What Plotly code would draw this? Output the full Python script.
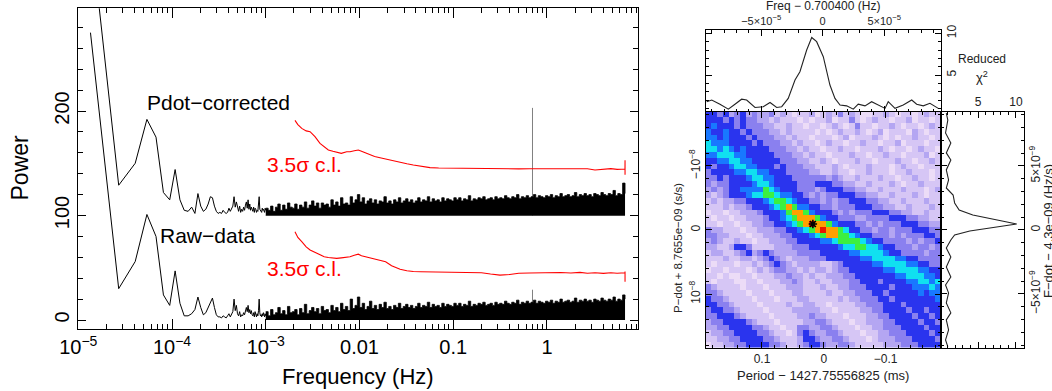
import numpy as np
import plotly.graph_objects as go

W, H = 1052, 391
def px(x): return x / W
def py(y): return 1 - y / H

FONT = "Liberation Sans"

# ---------------- left panel data ----------------
DF = 1.35e-5          # frequency resolution (Hz)
OFFSET = 100          # vertical offset of the Pdot-corrected spectrum

raw_low = [275, 30, 56, 101, 80, 24, 14, 47, 16, 4, 4, 6, 10, 22, 12, 5, 7, 12, 16, 21,
           12, 5, 3, 3, 2, 4, 3, 2, 4, 6, 3, 5, 8, 20, 9, 14, 6, 4, 8, 3,
           5, 4, 7, 5, 9, 12, 8, 14, 7, 10, 6, 9, 5, 4, 7, 3, 8, 5, 3, 6,
           4, 9, 20, 7, 4, 5, 3, 6, 4, 7, 5, 3, 6, 4]
pdot_low = [275, 29, 50, 92, 75, 22, 15, 44, 15, 5, 4, 8, 2, 21, 9, 4, 6, 11, 18, 17,
            9, 4, 2, 3, 2, 5, 3, 2, 3, 7, 4, 6, 9, 18, 8, 13, 7, 4, 9, 3,
            6, 4, 8, 5, 10, 13, 7, 15, 6, 11, 5, 8, 6, 4, 8, 3, 7, 6, 3, 5,
            4, 10, 18, 6, 5, 4, 3, 7, 5, 6, 4, 3, 7, 5]

env_freq = np.geomspace(1.0e-3, 6.8, 150)
raw_env = [8, 4, 10, 5, 7, 12, 6, 9, 5, 13, 7, 8, 10, 5, 11, 7, 15, 6, 9, 12,
           8, 11, 6, 13, 9, 10, 7, 14, 9, 12, 8, 16, 10, 13, 9, 20, 11, 14, 22,
           12, 16, 10, 13, 18, 11, 14, 10, 15, 12, 17, 11, 13, 10, 14, 12, 16, 11, 13, 15, 12,
           14, 11, 13, 16, 12, 14, 13, 17, 12, 15, 13, 14, 12, 16, 13, 15, 14, 13, 16,
           14, 16, 13, 15, 14, 18, 13, 15, 14, 16, 15, 17, 14, 15, 16, 14, 17, 15, 16, 15, 18,
           16, 15, 17, 16, 19, 15, 17, 16, 18, 16, 17, 19, 16, 18, 17, 16, 18,
           17, 19, 16, 18, 17, 20, 17, 18, 19, 17, 18, 21, 17, 19, 18, 20, 18, 19, 17, 20,
           19, 18, 21, 19, 18, 20, 19, 22, 18, 20, 19, 24, 20]
pdot_env = [7, 5, 9, 4, 8, 11, 5, 10, 6, 12, 8, 7, 11, 6, 10, 8, 13, 7, 10, 14,
            9, 12, 7, 12, 10, 11, 8, 15, 10, 13, 9, 17, 11, 12, 10, 18, 12, 15, 20,
            13, 17, 11, 14, 16, 12, 15, 11, 14, 13, 18, 12, 14, 11, 15, 13, 17, 12, 14, 16, 13,
            15, 12, 14, 17, 13, 15, 14, 18, 13, 16, 14, 15, 13, 17, 14, 16, 15, 14, 17,
            15, 17, 14, 16, 15, 19, 14, 16, 15, 17, 16, 18, 15, 16, 17, 15, 18, 16, 17, 16, 19,
            17, 16, 18, 17, 20, 16, 18, 17, 19, 17, 18, 20, 17, 19, 18, 17, 19,
            18, 20, 17, 19, 18, 21, 18, 19, 20, 18, 19, 22, 18, 20, 19, 21, 19, 20, 18, 21,
            20, 19, 22, 20, 19, 21, 20, 24, 19, 21, 20, 31, 21]

pulse_freq = 0.7004
raw_pulse = 29
pdot_pulse = 103

cl_freq = [2.05e-3, 2.2e-3, 2.42e-3, 2.7e-3, 2.97e-3, 3.35e-3, 3.79e-3, 4.2e-3, 4.65e-3, 5.2e-3,
           5.71e-3, 6.4e-3, 7.3e-3, 7.92e-3, 8.8e-3, 9.71e-3, 1.05e-2, 1.145e-2, 1.3e-2, 1.45e-2,
           1.656e-2, 1.9e-2, 2.2e-2, 2.71e-2, 3.2e-2, 3.75e-2, 4.5e-2, 5.65e-2, 0.07, 0.09,
           0.12, 0.151, 0.2, 0.25, 0.315, 0.4, 0.5, 0.65, 0.842, 1.1,
           1.4, 1.8, 2.25, 2.7, 3.25, 4.0, 4.8, 5.6, 6.3, 6.79, 6.8, 6.8]
cl_pdot = [91, 87, 83.4, 81, 80.2, 75.4, 69, 66, 62.7, 61.5,
           60.4, 59.5, 61, 61, 62, 62.7, 61.5, 60, 58, 56.5,
           55.3, 54, 52.5, 50.9, 49.5, 48.3, 47, 45.8, 45.5, 45.3,
           45.2, 45.1, 44.8, 44.6, 44.5, 44.4, 44.6, 44.8, 44.8, 44.6,
           45.2, 44.8, 45.1, 44.7, 43.5, 44.4, 44.9, 44.2, 44.6, 44.5, 53, 39]
cl_raw = [84.5, 79, 75, 70, 67, 64.5, 62, 60.6, 59.8, 59.3,
          59, 59.5, 60.2, 60.6, 62, 63, 61.5, 60.6, 59.5, 58,
          57, 55.8, 52, 48.5, 47.2, 46.4, 46.2, 46, 45.8, 45.6,
          45.4, 45.3, 45.2, 44, 43, 43.5, 44.8, 45, 45.3, 44.9,
          45.5, 45, 45.6, 44.8, 45.3, 44.6, 45.2, 44.7, 45.4, 45.3, 46.5, 36.7]

x_tickvals = [1e-5, 1e-4, 1e-3, 1e-2, 1e-1, 1]
x_ticktext = ["10<sup>\u22125</sup>", "10<sup>\u22124</sup>", "10<sup>\u22123</sup>", "0.01", "0.1", "1"]
y_tickvals = [0, 100, 200]

# ---------------- right panels data ----------------
freq_off = [v * 1e-5 for v in [-9.43, -9.02, -8.35, -7.67, -7.13, -6.59, -6.18, -5.50, -4.83, -4.28,
                                -3.74, -3.33, -2.80, -2.25, -1.85, -1.30, -0.89, -0.49, 0.05, 0.59,
                                1.00, 1.41, 1.95, 2.49, 2.89, 3.44, 3.98, 4.52, 5.07, 5.33,
                                5.88, 6.55, 7.24, 7.64, 8.18, 8.72, 9.40]]
chi2_freq = [1.8, 2.0, 1.5, 0.9, 1.5, 2.1, 2.0, 1.1, 1.2, 1.7,
             1.1, 1.2, 2.2, 4.4, 5.4, 8.0, 9.5, 9.0, 7.2, 3.8,
             2.2, 1.4, 1.3, 0.9, 1.5, 1.3, 1.8, 1.4, 1.0, 1.8,
             1.0, 1.4, 2.0, 1.5, 1.3, 1.6, 1.0]

fdot_off = [v * 1e-9 for v in [9.12, 8.59, 7.58, 6.80, 6.02, 5.47, 4.69, 3.91, 3.28, 2.73,
                                2.11, 1.56, 1.17, 0.47, -0.08, -0.39, -0.78, -1.41, -2.11, -2.89,
                                -3.67, -4.30, -4.92, -5.70, -6.48, -7.03, -7.81, -8.59, -9.12]]
chi2_fdot = [0.8, 1.0, 0.7, 1.4, 0.8, 1.4, 0.8, 1.1, 0.8, 1.7,
             1.9, 2.5, 4.3, 10.1, 3.9, 1.9, 1.4, 0.8, 1.4, 0.8,
             1.4, 0.7, 1.1, 0.8, 1.4, 0.8, 1.1, 0.7, 1.0]

best_period = 0.0177     # ms offset of best solution
best_pdot = -9.4e-10

# 41x41 grid of chi^2 levels (0 = lowest ... A = highest), rows from top (most negative P-dot)
grid_rows = [
    "55453453433423212231" "232423211223212212322",
    "55545454433232221" "212231224212322122312212",
    "56555454443322322" "122123212422122321221232",
    "65565545444332322" "221212322321231222132122",
    "66565554544433232" "212221231222321212232212",
    "76665555454443323" "221232212232212231222122",
    "77676565555444332" "322122322122232122123221",
    "66777665555544433" "232212223221223221222312",
    "55667766555554443" "322321222322122232212232",
    "54556776655545444" "332223212223222123221222",
    "45555667766555444" "433223221223222122322212",
    "44545556776655544" "444434322322232212232212",
    "43445555677655554" "445554433223222321223222",
    "34345566668765554" "443455544332232223222123",
    "32345556778876655" "434344555443322322232122",
    "23233445556788765" "544343445554433223222322",
    "22232334555678986" "655443444555443322322232",
    "12212233345556899" "865554343444555443322322",
    "21221223334556789" "998655444334444555443322",
    "22122122334455678" "9A9986555443434445554433",
    "43322212233344556" "789A99875544344344455544",
    "44332221223334455" "567899887655444343444554",
    "34322322122333445" "555667888876554444343445",
    "33223554222233344" "455555677887765544434434",
    "23322345345433334" "444555556677776554444344",
    "22232233234543233" "344455555566777766554444",
    "21222122323454323" "333223455555667777665544",
    "12212221232344332" "323323445555556677776655",
    "22121122122233433" "232233344555555566777665",
    "21222112212223343" "223223334455545555667767",
    "43222212221222333" "222322334445555455566676",
    "44322221222122233" "222232233444554555556566",
    "54432222122212223" "322222323344455455555556",
    "55443222212222322" "332212222334445554555555",
    "45544322221222233" "333221222233445555455455",
    "44555432222122223" "343322212223344555545545",
    "34455554322212222" "334432221223334455554554",
    "33445555443221224" "433443222122334445555455",
    "23344555544322124" "543344322212233444555545",
    "22334455554432223" "554334432221233344455554",
    "12233445555443223" "455433443222223334445555",
]

level_colors = ["#faf0fb", "#ecdcf7", "#d6c6f5", "#b4a6f2", "#8a80ef", "#2a34ee",
                "#1878ff", "#10e0f0", "#3cf040", "#ffa000", "#e81800"]

# ---------------- geometry (pixels) ----------------
L_X0, L_X1, L_Y0, L_Y1 = 77.7, 638.3, 8.3, 329.0
R_X0, R_X1, R_X2 = 705.7, 941.0, 1024.3
T_Y0, M_Y0, M_Y1 = 30.0, 111.7, 347.7

P_RANGE = [0.191, -0.1895]
PD_RANGE = [1.839e-8, -1.848e-8]

fig = go.Figure()

# ---- left panel ----
k = np.arange(1, len(raw_low) + 1)
fig.add_trace(go.Scatter(x=[pulse_freq, pulse_freq], y=[0, raw_pulse], mode="lines",
                         line=dict(color="#808080", width=1), hoverinfo="skip"))
fig.add_trace(go.Scatter(x=[pulse_freq, pulse_freq], y=[OFFSET, OFFSET + pdot_pulse], mode="lines",
                         line=dict(color="#808080", width=1), hoverinfo="skip"))
fig.add_trace(go.Scatter(x=k * DF, y=raw_low, mode="lines", line=dict(color="black", width=1)))
fig.add_trace(go.Scatter(x=k * DF, y=np.array(pdot_low) + OFFSET, mode="lines",
                         line=dict(color="black", width=1)))
fig.add_trace(go.Scatter(x=env_freq, y=raw_env, mode="lines", fill="tozeroy", fillcolor="black",
                         line=dict(color="black", width=0.8, shape="hv")))
fig.add_trace(go.Scatter(x=env_freq, y=[OFFSET] * len(env_freq), mode="lines",
                         line=dict(color="black", width=0.5)))
fig.add_trace(go.Scatter(x=env_freq, y=np.array(pdot_env) + OFFSET, mode="lines", fill="tonexty",
                         fillcolor="black", line=dict(color="black", width=0.8, shape="hv")))
fig.add_trace(go.Scatter(x=cl_freq, y=cl_raw, mode="lines", line=dict(color="#ff0000", width=1.1)))
fig.add_trace(go.Scatter(x=cl_freq, y=np.array(cl_pdot) + OFFSET, mode="lines",
                         line=dict(color="#ff0000", width=1.1)))

# ---- right: heatmap ----
z = [[int(ch, 16) for ch in row[:41].ljust(41, "2")] for row in grid_rows]
ncol, nrow = 41, len(z)
w = (P_RANGE[0] - P_RANGE[1]) / ncol
h = (PD_RANGE[0] - PD_RANGE[1]) / nrow
xc = [P_RANGE[0] - w * (c + 0.5) for c in range(ncol)]
yc = [PD_RANGE[1] + h * (r + 0.5) for r in range(nrow)]
cs = [[i / 10, col] for i, col in enumerate(level_colors)]
fig.add_trace(go.Heatmap(z=z, x=xc, y=yc, colorscale=cs, zmin=0, zmax=10, showscale=False,
                         xaxis="x3", yaxis="y3"))
fig.add_trace(go.Scatter(x=[best_period], y=[best_pdot], mode="markers", xaxis="x3", yaxis="y3",
                         marker=dict(symbol="asterisk-open", size=7, color="black",
                                     line=dict(color="black", width=1.6))))

# ---- top marginal ----
fig.add_trace(go.Scatter(x=freq_off, y=chi2_freq, mode="lines", xaxis="x2", yaxis="y2",
                         line=dict(color="#222", width=1.1)))
# ---- right marginal ----
fig.add_trace(go.Scatter(x=chi2_fdot, y=fdot_off, mode="lines", xaxis="x4", yaxis="y4",
                         line=dict(color="#222", width=1.1)))


def box(**kw):
    d = dict(showline=True, linecolor="black", linewidth=1, mirror="allticks", ticks="inside",
             showgrid=False, zeroline=False, tickcolor="black", automargin=False)
    d.update(kw)
    return d


minor_log = [m * 10.0 ** e for e in range(-5, 1) for m in range(2, 10)]
small = dict(family=FONT, size=12, color="#222")
tiny = dict(family=FONT, size=11, color="#222")

fig.update_layout(
    template="none",
    width=W, height=H, margin=dict(l=0, r=0, t=0, b=0, autoexpand=False),
    paper_bgcolor="white", plot_bgcolor="white", showlegend=False,
    font=dict(family=FONT, color="black"),
    xaxis=box(type="log", domain=[px(L_X0), px(L_X1)], anchor="y",
              range=[np.log10(1e-5) - 0.006, 0.974], tickvals=x_tickvals, ticktext=x_ticktext,
              ticklen=10, tickwidth=1, linewidth=1.3, tickfont=dict(size=20, family=FONT),
              minor=dict(tickmode="array", tickvals=minor_log, ticks="inside", ticklen=5,
                         tickcolor="black")),
    yaxis=box(domain=[py(L_Y1), py(L_Y0)], anchor="x", range=[-8.6, 298.3],
              tickvals=y_tickvals, ticktext=[str(v) for v in y_tickvals], tickangle=-90,
              ticklen=8, linewidth=1.3, tickfont=dict(size=20, family=FONT),
              minor=dict(dtick=20, tick0=0, ticks="inside", ticklen=5, tickcolor="black")),
    xaxis2=box(domain=[px(R_X0), px(R_X1)], anchor="y2", side="top",
               range=[-9.51e-5, 9.62e-5], tickvals=[-5e-5, 0, 5e-5],
               ticktext=["\u22125\u00d710<sup>\u22125</sup>", "0", "5\u00d710<sup>\u22125</sup>"],
               ticklen=6, tickfont=tiny,
               minor=dict(dtick=1e-5, tick0=0, ticks="inside", ticklen=3, tickcolor="black")),
    yaxis2=box(domain=[py(M_Y0), py(T_Y0)], anchor="x2", side="right", range=[0.6, 10.4],
               tickvals=[5, 10], ticktext=["5", "10"], tickangle=-90, ticklen=6, tickfont=small,
               minor=dict(dtick=1, tick0=0, ticks="inside", ticklen=3, tickcolor="black")),
    xaxis3=box(domain=[px(R_X0), px(R_X1)], anchor="y3", range=P_RANGE,
               tickvals=[0.1, 0, -0.1], ticktext=["0.1", "0", "\u22120.1"], ticklen=6,
               tickfont=small,
               minor=dict(dtick=0.02, tick0=0, ticks="inside", ticklen=3, tickcolor="black")),
    yaxis3=box(domain=[py(M_Y1), py(M_Y0)], anchor="x3", range=PD_RANGE,
               tickvals=[-1e-8, 0, 1e-8],
               ticktext=["\u221210<sup>\u22128</sup>", "0", "10<sup>\u22128</sup>"],
               tickangle=-90, ticklen=6, tickfont=small,
               minor=dict(dtick=2e-9, tick0=0, ticks="inside", ticklen=3, tickcolor="black")),
    xaxis4=box(domain=[px(R_X1), px(R_X2)], anchor="y4", side="top", range=[0.1, 11.1],
               tickvals=[5, 10], ticktext=["5", "10"], ticklen=6, tickfont=small,
               minor=dict(dtick=1, tick0=0, ticks="inside", ticklen=3, tickcolor="black")),
    yaxis4=box(domain=[py(M_Y1), py(M_Y0)], anchor="x4", side="right",
               range=[-9.2e-9, 9.24e-9], tickvals=[-5e-9, 0, 5e-9],
               ticktext=["\u22125\u00d710<sup>\u22129</sup>", "0", "5\u00d710<sup>\u22129</sup>"],
               tickangle=-90, ticklen=6, tickfont=small,
               minor=dict(dtick=1e-9, tick0=0, ticks="inside", ticklen=3, tickcolor="black")),
)


def ann(text, x, y, size, color="black", angle=0):
    fig.add_annotation(text=text, x=px(x), y=py(y), xref="paper", yref="paper",
                       xanchor="center", yanchor="middle", showarrow=False, textangle=angle,
                       font=dict(family=FONT, size=size, color=color))


ann("Pdot\u2212corrected", 218, 102, 21)
ann("Raw\u2212data", 207.5, 236, 21)
ann("3.5\u03c3 c.l.", 304.5, 164, 21, color="#ff0000")
ann("3.5\u03c3 c.l.", 304.5, 268, 21, color="#ff0000")
ann("Power", 19.5, 168, 23, angle=-90)
ann("Frequency (Hz)", 358, 376, 22)

ann("Freq \u2212 0.700400 (Hz)", 823, 6, 12, color="#222")
ann("Reduced", 982, 59, 12, color="#222")
ann("\u03c7<sup>2</sup>", 982, 77, 13, color="#222")
ann("Period \u2212 1427.75556825 (ms)", 823, 375, 13, color="#222")
ann("P\u2212dot + 8.7655e\u221209 (s/s)", 678, 248, 11.5, color="#222", angle=-90)
ann("F\u2212dot \u2212 4.3e\u221209 (Hz/s)", 1049, 231, 13, color="#222", angle=-90)

fig.write_html("out.html", config={"displayModeBar": False},
               post_script="document.body.style.margin='0';document.body.style.padding='0';"
                           "document.body.style.overflow='hidden';")
